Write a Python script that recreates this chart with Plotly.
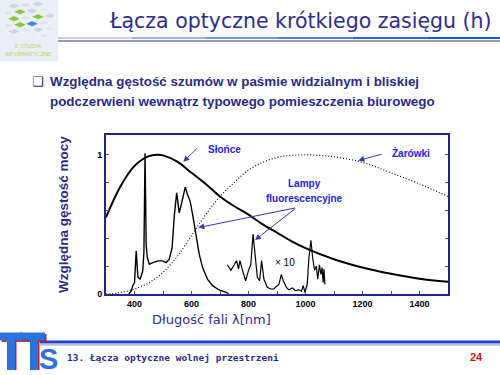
import plotly.graph_objects as go

# ---------------- data ----------------
sun_nm = [300, 350, 400, 450, 480, 500, 550, 600, 650, 700, 750, 800, 850, 900, 950, 1000, 1100, 1200, 1300, 1400, 1500]
sun_val = [0.55, 0.77, 0.92, 0.99, 1.0, 0.995, 0.95, 0.87, 0.79, 0.70, 0.63, 0.57, 0.50, 0.44, 0.38, 0.33, 0.25, 0.19, 0.145, 0.11, 0.088]

bulb_nm = [300, 350, 400, 450, 500, 550, 600, 650, 700, 750, 800, 850, 900, 950, 1000, 1050, 1100, 1200, 1300, 1400, 1500]
bulb_val = [0.0, 0.01, 0.036, 0.08, 0.155, 0.27, 0.42, 0.57, 0.70, 0.80, 0.89, 0.945, 0.98, 0.995, 1.0, 0.995, 0.985, 0.945, 0.87, 0.79, 0.70]

fl_nm = [380, 388, 394, 400, 406, 412, 420, 429, 433, 437, 441, 445, 452, 464, 482, 499, 511, 522, 532, 540, 548,
         557, 567, 578, 586, 595, 604, 616, 627, 639, 656, 674, 697, 721, 730]
fl_val = [0.0, 0.02, 0.06, 0.083, 0.31, 0.12, 0.107, 0.167, 0.3, 1.01, 0.35, 0.262, 0.214, 0.226, 0.238, 0.238, 0.226, 0.25,
          0.333, 0.57, 0.726, 0.583, 0.667, 0.767, 0.714, 0.667, 0.57, 0.43, 0.286, 0.19, 0.107, 0.06, 0.029, 0.012, 0.005]

x10_nm = [726, 738, 750, 758, 765, 770, 779, 790, 800, 808, 816, 823, 831, 839, 846, 854, 866, 878, 889, 901, 907, 915,
          922, 933, 942, 954, 965, 977, 986, 992, 998, 1006, 1012, 1019, 1025, 1032, 1038, 1043, 1049, 1054, 1058, 1062,
          1065, 1068]
x10_val = [0.21, 0.17, 0.21, 0.24, 0.18, 0.24, 0.17, 0.095, 0.17, 0.21, 0.43, 0.26, 0.12, 0.095, 0.24, 0.107, 0.048,
           0.036, 0.036, 0.06, 0.07, 0.14, 0.095, 0.048, 0.03, 0.043, 0.024, 0.03, 0.02, 0.06, 0.012, 0.07, 0.26, 0.386,
           0.26, 0.17, 0.2, 0.107, 0.21, 0.14, 0.19, 0.083, 0.18, 0.07]

x_tick_vals = [300, 400, 500, 600, 700, 800, 900, 1000, 1100, 1200, 1300, 1400, 1500]
x_tick_text = ["", "400", "", "600", "", "800", "", "1000", "", "1200", "", "1400", ""]
y_tick_vals = [0, 0.2, 0.4, 0.6, 0.8, 1.0]
y_tick_text = ["0", "", "", "", "", "1"]

W, H = 500, 375
BLUE = "#2323E6"
ARROW = "#3A3AB0"


def px(x):
    return x / W


def py(y):
    return 1 - y / H


fig = go.Figure()
fig.add_trace(go.Scatter(x=sun_nm, y=sun_val, mode="lines", line=dict(color="black", width=2, shape="spline"),
                         hoverinfo="skip"))
fig.add_trace(go.Scatter(x=bulb_nm, y=bulb_val, mode="lines",
                         line=dict(color="black", width=1.1, dash="1px,2px", shape="spline"), hoverinfo="skip"))
fig.add_trace(go.Scatter(x=fl_nm, y=fl_val, mode="lines", line=dict(color="black", width=1.4), hoverinfo="skip"))
fig.add_trace(go.Scatter(x=x10_nm, y=x10_val, mode="lines", line=dict(color="black", width=1.2), hoverinfo="skip"))

tickfont = dict(family="Liberation Sans, Arial, sans-serif", size=9, color="black", weight="bold")
fig.update_xaxes(domain=[px(106), px(448)], range=[300, 1500], tickvals=x_tick_vals, ticktext=x_tick_text,
                 ticks="inside", ticklen=3, tickcolor="#555", showgrid=False, zeroline=False, showline=True,
                 linecolor="#24248F", linewidth=2, mirror=True, tickfont=tickfont)
fig.update_yaxes(domain=[py(298), py(137)], range=[0, 1.14], tickvals=y_tick_vals, ticktext=y_tick_text,
                 ticks="inside", ticklen=3, tickcolor="#555", showgrid=False, zeroline=False, showline=True,
                 linecolor="#24248F", linewidth=2, mirror="ticks", tickfont=tickfont)

ann = []
shapes = []


def text(x, y, s, size, color, family="Liberation Sans, Arial, sans-serif", weight="normal", xanchor="center",
         angle=0):
    ann.append(dict(x=px(x), y=py(y), xref="paper", yref="paper", text=s, showarrow=False, xanchor=xanchor,
                    yanchor="middle", textangle=angle,
                    font=dict(family=family, size=size, color=color, weight=weight)))


def arrow(hx, hy, tx, ty):
    ann.append(dict(x=px(hx), y=py(hy), xref="paper", yref="paper", ax=tx - hx, ay=ty - hy, text="",
                    showarrow=True, arrowhead=2, arrowsize=1.2, arrowwidth=1, arrowcolor=ARROW))


def rect(x0, y0, x1, y1, color, lw=0, lc="white"):
    shapes.append(dict(type="rect", xref="paper", yref="paper", x0=px(x0), x1=px(x1), y0=py(y1), y1=py(y0),
                       fillcolor=color, line=dict(width=lw, color=lc)))


# ---------- logo top-left ----------
shapes.append(dict(type="rect", xref="paper", yref="paper", x0=0, x1=px(58), y0=py(62), y1=1,
                   fillcolor="#e9eff6", line=dict(width=0), layer="below"))


def diamond(cx, cy, w, h, color):
    path = f"M {px(cx - w/2)},{py(cy)} L {px(cx)},{py(cy - h/2)} L {px(cx + w/2)},{py(cy)} L {px(cx)},{py(cy + h/2)} Z"
    shapes.append(dict(type="path", xref="paper", yref="paper", path=path, fillcolor=color,
                       line=dict(width=0.5, color="white")))


for cx, cy, c in [(14, 6, "#c9d7e6"), (26, 5, "#d6e0ea"), (38, 4, "#c9d7e6"),
                  (8, 13, "#dfe7ef"), (20, 12, "#8cc63f"), (32, 11, "#c9d7e6"), (44, 10, "#dfe7ef"),
                  (14, 19, "#8cc63f"), (26, 18, "#dfe7ef"), (38, 17, "#8cc63f"), (50, 16, "#c9d7e6"),
                  (8, 26, "#dfe7ef"), (20, 25, "#8cc63f"), (32, 24, "#3d8fe0"), (44, 23, "#dfe7ef"),
                  (14, 32, "#c9d7e6"), (26, 31, "#dfe7ef"), (38, 30, "#c9d7e6"), (50, 29, "#dfe7ef"),
                  (44, 36, "#e3e8ee")]:
    diamond(cx, cy, 13, 6, c)
text(28, 47, "E-STUDIA", 5.5, "#c6d64a", family="DejaVu Sans")
text(28, 55, "INFORMATYCZNE", 5.5, "#c6d64a", family="DejaVu Sans")

# ---------- title ----------
text(494, 21, "Łącza optyczne krótkiego zasięgu (h)", 20.5, "#2E2E8F", family="DejaVu Sans", xanchor="right")
seg_cols = ["#c8d3ea", "#9fb3e0", "#7393dc", "#4d79db", "#2d62dd", "#1e56e0"]
n = len(seg_cols)
for i, c in enumerate(seg_cols):
    x0 = 58 + (500 - 58) * i / n
    x1 = 58 + (500 - 58) * (i + 1) / n
    shapes.append(dict(type="line", xref="paper", yref="paper", x0=px(x0), x1=px(x1), y0=py(38.5), y1=py(38.5),
                       line=dict(color=c, width=2)))
shapes.append(dict(type="line", xref="paper", yref="paper", x0=px(58), x1=1, y0=py(41.5), y1=py(41.5),
                   line=dict(color="#9a9fa8", width=2)))

# ---------- bullet text ----------
bfont = "Liberation Sans, Arial, sans-serif"
text(38, 83, "❑", 13, "#2E2E8F", family="DejaVu Sans")
text(48, 83, "Względna gęstość szumów w paśmie widzialnym i bliskiej", 13.4, "#2A2A8A", family=bfont,
     weight="bold", xanchor="left")
text(48, 103, "podczerwieni wewnątrz typowego pomieszczenia biurowego", 13.4, "#2A2A8A", family=bfont,
     weight="bold", xanchor="left")

# ---------- axis titles ----------
text(63, 218, "Względna gęstość mocy", 13.5, "#2A2A8A", weight="bold", angle=-90)
text(211, 324, "Długość fali λ[nm]", 13, "#2E2E8F", family="DejaVu Sans")

# ---------- curve labels ----------
lab = dict(size=10, color=BLUE, weight="bold")
text(224, 152, "Słońce", **lab)
text(411, 155, "Żarówki", **lab)
text(304, 186, "Lampy", **lab)
text(304, 201, "fluorescencyjne", **lab)
text(285, 266, "× 10", 10, "black")
arrow(183.3, 164, 198.3, 149.3)
arrow(358.3, 162.7, 383.3, 156)
arrow(198.3, 230.7, 296.7, 210.7)
arrow(255, 243.3, 296.7, 210.7)

# ---------- footer ----------
shapes.append(dict(type="line", xref="paper", yref="paper", x0=px(40), x1=1, y0=py(346.5), y1=py(346.5),
                   line=dict(color="#1f3fd6", width=3)))
shapes.append(dict(type="line", xref="paper", yref="paper", x0=px(40), x1=1, y0=py(349.5), y1=py(349.5),
                   line=dict(color="#b8c0d8", width=2)))
# TTS logo: two T's drawn as bars with a red edge, S as text
RED, TB = "#c0202a", "#2a72dc"
for (bx0, bx1, sx0, sx1) in [(0, 22, 7, 15), (20, 45, 30, 38)]:
    rect(bx0 + 1.5, 338.5, bx1 + 1.5, 346.5, RED)
    rect(sx0 + 1.5, 346, sx1 + 1.5, 375, RED)
    rect(bx0, 337, bx1, 345, TB)
    rect(sx0, 344, sx1, 375, TB)
ann.append(dict(x=px(48.8), y=0, xref="paper", yref="paper", text="S", showarrow=False, xanchor="center",
                yanchor="bottom", yshift=-7,
                font=dict(family="Liberation Sans, Arial, sans-serif", size=29, color=TB, weight="bold")))
text(65, 362, "13. Łącza optyczne wolnej przestrzeni", 9.5, "#2A2A8A", family="DejaVu Sans Mono",
     weight="bold", xanchor="left")
text(476, 362, "24", 11, "#d01818", weight="bold")

fig.update_layout(width=W, height=H, margin=dict(l=0, r=0, t=0, b=0), paper_bgcolor="white",
                  plot_bgcolor="white", showlegend=False, annotations=ann, shapes=shapes)

fig.write_html("out.html", config={"displayModeBar": False},
               post_script="document.body.style.margin='0';document.body.style.padding='0';")
